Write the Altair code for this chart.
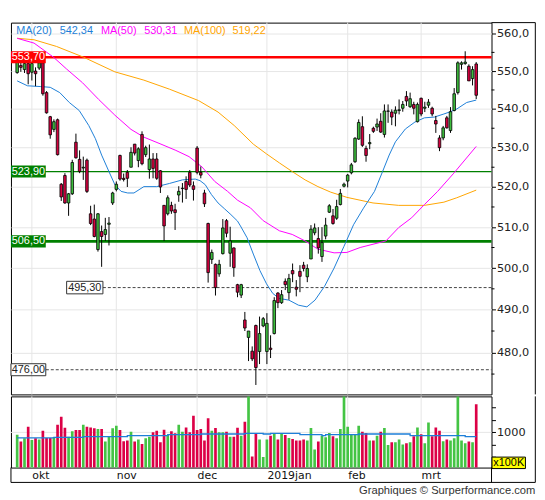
import altair as alt
import pandas as pd

# ---------------- data ----------------
OPEN = [549.6, 551.5, 550.4, 552.0, 549.7, 550.0, 550.8, 552.2, 544.3, 538.0,
        534.7, 537.2, 520.7, 522.9, 516.0, 518.3, 531.4, 527.0, 524.8, 526.8,
        513.3, 512.0, 504.5, 508.9, 508.2, 510.7, 516.0, 519.4, 528.0, 522.2,
        523.7, 525.0, 530.9, 526.7, 533.4, 528.2, 524.4, 527.1, 527.1, 524.1,
        515.4, 513.3, 515.4, 514.3, 518.0, 519.6, 521.4, 523.7, 520.3, 529.9,
        523.7, 518.5, 510.9, 502.1, 500.9, 498.6, 503.5, 511.6, 503.6, 504.9,
        496.0, 493.5, 487.6, 483.5, 480.3, 486.3, 480.2, 486.2, 480.2, 481.0,
        484.4, 494.0, 491.7, 496.8, 494.1, 499.4, 495.4, 499.2, 500.7, 497.9,
        502.2, 508.6, 507.2, 502.8, 507.8, 513.7, 512.8, 512.2, 515.6, 520.2,
        521.5, 523.6, 526.4, 532.2, 535.4, 529.8, 531.0, 535.0, 535.3, 536.8,
        533.4, 539.4, 539.2, 538.9, 539.6, 540.2, 543.3, 540.6, 541.2, 536.7,
        542.8, 540.2, 541.0, 540.2, 537.0, 532.5, 532.5, 537.7, 534.4, 539.6,
        544.3, 551.8, 552.0, 551.3, 548.0, 551.9]
HIGH = [553.2, 552.5, 552.6, 552.5, 552.6, 551.0, 553.0, 553.5, 544.7, 538.2,
        537.3, 537.5, 521.0, 523.5, 518.5, 526.9, 533.6, 529.3, 527.7, 527.2,
        515.3, 515.6, 513.5, 510.4, 512.3, 512.5, 518.8, 521.4, 528.2, 523.4,
        524.3, 530.1, 530.9, 530.1, 534.2, 530.5, 530.8, 528.6, 528.6, 524.3,
        515.5, 517.9, 516.3, 515.8, 520.2, 521.0, 522.7, 524.3, 521.4, 530.4,
        525.2, 519.3, 511.1, 504.5, 501.1, 502.0, 512.0, 512.0, 510.1, 505.0,
        496.2, 496.2, 489.5, 485.0, 481.4, 486.5, 488.4, 488.3, 489.2, 484.0,
        493.0, 494.2, 494.7, 497.5, 498.6, 501.1, 497.1, 500.7, 501.5, 500.9,
        510.5, 510.9, 510.0, 510.0, 512.3, 515.7, 514.5, 516.8, 519.5, 521.1,
        523.3, 526.1, 532.7, 537.3, 538.1, 530.5, 533.5, 535.4, 537.5, 538.9,
        541.2, 541.2, 539.9, 540.7, 542.5, 542.1, 544.7, 544.3, 541.9, 541.7,
        543.0, 541.9, 542.6, 540.6, 538.2, 533.2, 535.6, 538.2, 540.5, 545.5,
        552.6, 552.6, 555.3, 551.8, 551.3, 552.4]
LOW = [549.3, 549.8, 549.5, 546.5, 547.5, 546.0, 550.3, 543.5, 538.8, 532.3,
       534.0, 528.0, 516.5, 515.8, 512.8, 518.0, 527.2, 523.5, 521.8, 518.5,
       510.5, 507.5, 504.0, 500.3, 506.6, 505.5, 515.5, 518.9, 521.6, 521.4,
       520.0, 525.0, 528.0, 525.0, 525.5, 527.6, 522.1, 522.2, 521.8, 518.5,
       506.6, 512.9, 513.3, 509.3, 516.3, 516.1, 517.0, 520.0, 516.6, 523.2,
       522.2, 515.0, 496.5, 501.0, 493.4, 497.9, 503.3, 507.5, 500.3, 497.9,
       493.0, 492.8, 485.0, 478.0, 478.0, 472.5, 477.3, 485.9, 477.3, 478.7,
       484.2, 490.4, 491.4, 494.7, 492.4, 496.6, 493.2, 494.2, 499.2, 496.6,
       502.2, 508.0, 503.5, 501.5, 507.0, 513.5, 510.6, 511.8, 515.4, 519.9,
       519.9, 523.2, 526.1, 532.0, 530.2, 526.4, 529.6, 533.8, 534.3, 533.8,
       532.6, 536.4, 535.8, 535.5, 538.6, 539.3, 540.8, 540.3, 538.6, 536.5,
       538.1, 539.2, 540.3, 538.1, 533.8, 529.1, 531.9, 534.9, 533.8, 539.4,
       543.8, 550.4, 551.7, 547.4, 546.2, 542.6]
CLOSE = [552.5, 551.0, 552.0, 549.3, 552.0, 549.3, 552.2, 544.0, 539.0, 533.3,
         536.7, 528.2, 517.5, 516.0, 518.3, 526.2, 527.4, 523.9, 525.0, 518.9,
         510.9, 507.7, 513.3, 507.7, 509.4, 511.0, 518.5, 520.7, 522.0, 521.9,
         522.2, 528.8, 528.6, 529.7, 525.9, 530.0, 527.1, 524.7, 522.2, 520.0,
         510.3, 517.3, 514.0, 513.6, 518.9, 519.7, 519.4, 520.5, 519.4, 523.7,
         523.0, 515.8, 498.9, 503.8, 495.3, 500.9, 509.8, 508.5, 506.6, 500.1,
         494.2, 496.0, 485.7, 485.0, 478.5, 476.5, 484.4, 487.9, 486.8, 480.7,
         492.2, 491.7, 493.6, 496.0, 497.5, 498.6, 494.9, 498.0, 499.9, 499.9,
         509.5, 509.8, 504.9, 506.2, 510.5, 515.3, 510.9, 515.1, 518.4, 520.7,
         523.0, 525.6, 532.4, 536.5, 530.6, 528.0, 531.3, 534.2, 536.1, 534.0,
         539.5, 539.5, 537.9, 539.7, 539.8, 541.2, 542.1, 542.7, 540.2, 541.2,
         538.7, 540.5, 541.8, 538.7, 536.1, 530.0, 535.1, 535.1, 539.3, 544.0,
         552.2, 552.2, 552.4, 547.4, 550.4, 543.6]
VOLUME = [954, 814, 881, 1114, 847, 881, 854, 1034, 887, 887,
          901, 1154, 1314, 1094, 914, 1021, 1047, 1047, 1154, 1114,
          1101, 1081, 1067, 1067, 814, 921, 1081, 1134, 1047, 821,
          834, 1014, 814, 854, 767, 881, 914, 1001, 1034, 801,
          1054, 947, 1021, 981, 1154, 1014, 1101, 1001, 1334, 1047,
          1067, 834, 1287, 1034, 1087, 1001, 1001, 1014, 914, 914,
          1094, 934, 1214, 1740, 514, 981, 854, 501, 854, 934,
          981, 854, 967, 947, 887, 867, 834, 834, 854, 834,
          1087, 654, 814, 934, 901, 987, 921, 881, 1067, 1740,
          1114, 967, 967, 1134, 1014, 987, 834, 834, 934, 1014,
          1087, 747, 801, 801, 854, 754, 781, 801, 921, 1101,
          961, 781, 1201, 921, 1101, 1034, 821, 854, 834, 881,
          1740, 834, 781, 814, 801, 1567]

MONTH_IDX = [4, 27, 49, 68, 90, 110]
MONTH_LABELS = ["okt", "nov", "dec", "2019jan", "feb", "mrt"]

MA20_I = [0, 2.8, 6.3, 9.0, 11.6, 14.2, 16.9, 19.5, 21.3, 23.0, 24.8, 26.6, 28.3, 30.1,
          31.8, 34.5, 38.0, 41.5, 45.0, 48.5, 49.8, 51.2, 52.9, 54.7, 56.4, 58.2, 60.0,
          60.8, 62.6, 64.3, 66.1, 67.9, 69.6, 71.4, 74.0, 76.6, 78.9, 81.1, 83.7, 86.3,
          89.0, 91.6, 94.3, 97.3, 99.5, 101.3, 103.0, 105.7, 108.3, 110.9, 113.6, 116.2,
          118.0, 119.7, 122.4, 125.0]
MA20_V = [547.4, 546.1, 545.9, 545.7, 544.3, 541.7, 539.6, 535.7, 532.3, 528.1, 524.3,
          520.6, 518.9, 518.5, 518.5, 520.1, 520.1, 520.9, 521.8, 522.0, 521.6, 520.6,
          518.1, 516.0, 514.6, 513.1, 511.5, 510.3, 507.4, 503.4, 499.4, 496.2, 493.9,
          492.7, 492.3, 491.1, 490.7, 492.3, 495.6, 500.0, 505.3, 510.6, 514.7, 518.9,
          523.9, 528.1, 531.5, 534.8, 536.6, 537.7, 537.9, 538.7, 539.3, 540.0, 541.7,
          542.34]
MA50_I = [0, 4.6, 9.9, 13.4, 17.8, 22.2, 26.6, 31.0, 34.5, 38.9, 43.2, 46.8, 50.3, 53.8,
          57.3, 60.0, 63.5, 67.0, 71.4, 74.9, 78.4, 81.9, 86.3, 89.8, 93.4, 96.9, 100.4,
          103.9, 107.4, 110.9, 114.5, 118.9, 125.0]
MA50_V = [558.8, 557.5, 553.7, 550.6, 546.9, 542.5, 538.4, 534.7, 532.7, 531.0, 529.3,
          527.7, 525.1, 521.4, 518.9, 516.7, 514.8, 511.6, 509.1, 508.2, 506.6, 504.6,
          503.7, 503.8, 505.0, 505.8, 506.6, 509.9, 512.3, 515.6, 518.9, 523.5, 530.31]
MA100_I = [0, 4.6, 10.7, 18.1, 26.6, 34.5, 41.5, 49.4, 54.7, 59.1, 64.3, 67.9, 71.4, 74.9,
           78.4, 81.9, 85.4, 89.8, 96.9, 103.9, 110.9, 116.2, 119.7, 125.0]
MA100_V = [558.8, 558.4, 556.6, 553.7, 549.8, 547.6, 545.2, 542.2, 539.2, 535.7, 530.9,
           528.4, 526.1, 523.9, 521.8, 520.1, 518.7, 517.4, 516.0, 515.4, 515.4, 516.2,
           517.3, 519.22]
VOLMA_I = [0, 10, 18, 30, 41, 50, 62, 67, 69, 77, 83, 84, 93, 102, 107, 121, 122, 125]
VOLMA_V = [887, 901, 914, 934, 954, 967, 981, 967, 981, 954, 934, 954, 967, 967, 934,
           934, 914, 914]

LEVELS = [553.7, 523.9, 506.5, 495.3, 476.0]
LEVEL_LABELS = ["553,70", "523,90", "506,50", "495,30", "476,00"]
PRICE_TICKS = [480, 490, 500, 510, 520, 530, 540, 550, 560]
MINOR_TICKS = [475, 485, 495, 505, 515, 525, 535, 545, 555]
VOL_TICKS = [500, 750, 1000, 1250, 1500]
LEGEND = [("MA(20)", "542,34"), ("MA(50)", "530,31"), ("MA(100)", "519,22")]

# ---------------- styling / layout constants ----------------
W, H1, H2 = 486, 376, 72
LAB_H = 15
FRAME_R = 44.3
XDOM = [-0.343, 127.82]
YDOM = [470.35, 563.05]
VDOM = [288, 1728]
GREEN, RED = "#3cbc3c", "#d6003f"
VGREEN, VRED = "#44c444", "#dc0046"
GRID = "#e6e6e6"
BLUE, MAGENTA, ORANGE = "#1e7fd8", "#ff00ff", "#ffa500"
LEG_COLORS = [BLUE, MAGENTA, ORANGE]
LEG_X = [(5.3, 49.3), (91, 134.7), (175, 224)]
AX_FONT = "DejaVu Sans"
TXT_FONT = "Liberation Sans"
BOX_PATH = "M-1,-0.345L1,-0.345L1,0.345L-1,0.345Z"

n = len(OPEN)
df = pd.DataFrame({"i": list(range(n)), "open": OPEN, "high": HIGH, "low": LOW,
                   "close": CLOSE, "vol": VOLUME})
df["dir"] = ["up" if c >= o else "down" for o, c in zip(OPEN, CLOSE)]

xs = alt.Scale(domain=XDOM, nice=False, zero=False)
ys = alt.Scale(type="log", domain=YDOM, nice=False)
vs = alt.Scale(domain=VDOM, nice=False, zero=False)

months = pd.DataFrame({"i": MONTH_IDX, "label": MONTH_LABELS})
lev = pd.DataFrame({"v": LEVELS, "t": LEVEL_LABELS})
one = pd.DataFrame({"k": [0]})

price_axis = alt.Axis(orient="right", values=PRICE_TICKS,
                      labelExpr="replace(format(datum.value, '.1f'), '.', ',')",
                      grid=True, gridColor=GRID, tickSize=4, tickColor="black",
                      domain=False, title=None, labelFont=AX_FONT, labelFontSize=11.4,
                      labelColor="#222", labelPadding=1, labelOverlap=False)
month_expr = " : ".join(f"datum.value == {i} ? '{l}'" for i, l in zip(MONTH_IDX, MONTH_LABELS)) + " : ''"
x_axis = alt.Axis(values=MONTH_IDX, labelExpr=month_expr, labelAlign="left", labelBaseline="top",
                  labelPadding=2, ticks=False, tickSize=0, domain=False, grid=False, title=None,
                  labelFont=AX_FONT, labelFontSize=11, labelColor="#111", labelFlush=False,
                  labelOverlap=False)
v_axis = alt.Axis(orient="right", values=VOL_TICKS,
                  labelExpr="datum.value == 1000 ? '1000' : ''", grid=False, tickSize=4,
                  tickColor="black", domain=False, title=None, labelFont=AX_FONT,
                  labelFontSize=11.4, labelColor="#222", labelPadding=1, labelOverlap=False)


def X():
    return alt.X("i:Q", scale=xs, axis=None)


def XV():
    return alt.X("i:Q", scale=xs, axis=x_axis)


def Y(field):
    return alt.Y(f"{field}:Q", scale=ys, axis=price_axis)


def YV(field):
    return alt.Y(f"{field}:Q", scale=vs, axis=v_axis)


layers = []
layers.append(alt.Chart(months).mark_rule(color=GRID, strokeWidth=1).encode(
    x=X(), y=alt.value(0), y2=alt.value(H1)))

# level lines
layers.append(alt.Chart(lev.iloc[[0]]).mark_rule(color="#ff0000", strokeWidth=2.6).encode(
    y=Y("v"), x=alt.value(0), x2=alt.value(W)))
layers.append(alt.Chart(lev.iloc[[1]]).mark_rule(color="#008000", strokeWidth=1.3).encode(
    y=Y("v"), x=alt.value(0), x2=alt.value(W)))
layers.append(alt.Chart(lev.iloc[[2]]).mark_rule(color="#008000", strokeWidth=2.8).encode(
    y=Y("v"), x=alt.value(0), x2=alt.value(W)))
layers.append(alt.Chart(lev.iloc[[3]]).mark_rule(color="#444", strokeWidth=1, strokeDash=[3, 2]).encode(
    y=Y("v"), x=alt.value(93), x2=alt.value(W)))
layers.append(alt.Chart(lev.iloc[[4]]).mark_rule(color="#444", strokeWidth=1, strokeDash=[3, 2]).encode(
    y=Y("v"), x=alt.value(35.3), x2=alt.value(W)))

# moving averages
for mi, mv, col in [(MA100_I, MA100_V, ORANGE), (MA50_I, MA50_V, MAGENTA), (MA20_I, MA20_V, BLUE)]:
    layers.append(alt.Chart(pd.DataFrame({"i": mi, "v": mv})).mark_line(
        color=col, strokeWidth=1, clip=True).encode(x=X(), y=Y("v")))

# candles
layers.append(alt.Chart(df).mark_rule(color="black", strokeWidth=1, clip=True).encode(
    x=X(), y=Y("low"), y2="high:Q"))
layers.append(alt.Chart(df).mark_bar(width=2.6, stroke="black", strokeWidth=0.8, clip=True).encode(
    x=X(),
    y=Y("open"),
    y2="close:Q",
    color=alt.Color("dir:N", scale=alt.Scale(domain=["up", "down"], range=[GREEN, RED]), legend=None)))

# level labels
box_specs = [(0, "#ff0000", None, 17.6, 1239, "white"),
             (1, "#008000", None, 17.6, 1239, "white"),
             (2, "#008000", None, 17.6, 1239, "white"),
             (3, "white", "#333", 74.65, 1347, "#222"),
             (4, "white", "#333", 17.6, 1239, "#222")]
for idx, fill, stroke, cx, size, tcol in box_specs:
    kw = dict(shape=BOX_PATH, size=size, filled=True, fill=fill, opacity=1)
    if stroke:
        kw.update(stroke=stroke, strokeWidth=1)
    else:
        kw.update(strokeWidth=0)
    layers.append(alt.Chart(lev.iloc[[idx]]).mark_point(**kw).encode(x=alt.value(cx), y=Y("v")))
    layers.append(alt.Chart(lev.iloc[[idx]]).mark_text(
        color=tcol, font=TXT_FONT, fontSize=11, align="center", baseline="middle").encode(
        x=alt.value(cx), y=Y("v"), text="t:N"))

# MA legend
for (name, val), col, (x1, x2) in zip(LEGEND, LEG_COLORS, LEG_X):
    leg = pd.DataFrame({"name": [name], "val": [val]})
    layers.append(alt.Chart(leg).mark_text(color=col, font=TXT_FONT, fontSize=11, align="left",
                                           baseline="middle").encode(
        x=alt.value(x1), y=alt.value(8), text="name:N"))
    layers.append(alt.Chart(leg).mark_text(color=col, font=TXT_FONT, fontSize=11, align="left",
                                           baseline="middle").encode(
        x=alt.value(x2), y=alt.value(8), text="val:N"))

# minor ticks on the price axis
layers.append(alt.Chart(pd.DataFrame({"v": MINOR_TICKS})).mark_rule(color="black", strokeWidth=1).encode(
    y=Y("v"), x=alt.value(W), x2=alt.value(W + 3)))

# outer frame parts
layers.append(alt.Chart(one).mark_rule(color="black", strokeWidth=1).encode(
    x=alt.value(W), x2=alt.value(W + FRAME_R), y=alt.value(0)))
layers.append(alt.Chart(one).mark_rule(color="black", strokeWidth=1).encode(
    x=alt.value(W + FRAME_R), y=alt.value(0), y2=alt.value(H1)))

price = alt.layer(*layers).properties(width=W, height=H1)

# ---------------- volume panel ----------------
vl = []
vl.append(alt.Chart(months).mark_rule(color=GRID, strokeWidth=1).encode(
    x=XV(), y=alt.value(0), y2=alt.value(H2)))
vl.append(alt.Chart(pd.DataFrame({"v": [1000]})).mark_rule(color=GRID, strokeWidth=1).encode(
    y=YV("v"), x=alt.value(0), x2=alt.value(W)))
vl.append(alt.Chart(df).mark_bar(width=2.7, clip=True).encode(
    x=XV(),
    y=YV("vol"),
    y2=alt.value(H2),
    color=alt.Color("dir:N", scale=alt.Scale(domain=["up", "down"], range=[VGREEN, VRED]), legend=None)))
vl.append(alt.Chart(pd.DataFrame({"i": VOLMA_I, "v": VOLMA_V})).mark_line(
    color=BLUE, strokeWidth=1.3, interpolate="step-after", clip=True).encode(
    x=XV(), y=YV("v")))
# frame pieces
vl.append(alt.Chart(one).mark_rule(color="black", strokeWidth=1).encode(
    x=alt.value(W + FRAME_R), y=alt.value(0), y2=alt.value(H2 + LAB_H)))
vl.append(alt.Chart(one).mark_rule(color="black", strokeWidth=1).encode(
    x=alt.value(0), x2=alt.value(W + FRAME_R), y=alt.value(H2 + LAB_H)))
vl.append(alt.Chart(one).mark_rule(color="black", strokeWidth=1).encode(
    x=alt.value(0), y=alt.value(H2), y2=alt.value(H2 + LAB_H)))
vl.append(alt.Chart(one).mark_rule(color="black", strokeWidth=1).encode(
    x=alt.value(W), y=alt.value(H2), y2=alt.value(H2 + LAB_H)))
# x100K badge
vl.append(alt.Chart(one).mark_rect(fill="#ffff00", stroke="black", strokeWidth=1).encode(
    x=alt.value(W + 0.5), x2=alt.value(W + 34.3), y=alt.value(61.4), y2=alt.value(73.0)))
vl.append(alt.Chart(pd.DataFrame({"t": ["x100K"]})).mark_text(
    font=TXT_FONT, fontSize=11, color="black", align="center", baseline="middle").encode(
    x=alt.value(W + 17.4), y=alt.value(67.4), text="t:N"))
# credit
vl.append(alt.Chart(pd.DataFrame({"t": ["Graphiques \u00a9 Surperformance.com"]})).mark_text(
    font=TXT_FONT, fontSize=11.3, color="#333", align="right", baseline="middle").encode(
    x=alt.value(W + FRAME_R), y=alt.value(H2 + LAB_H + 9), text="t:N"))

volume = alt.layer(*vl).properties(width=W, height=H2)

chart = alt.vconcat(price, volume, spacing=0).resolve_scale(color="independent").properties(
    padding={"left": 0, "top": 11, "right": 0, "bottom": 0}
).configure_view(stroke="black", strokeWidth=1)

chart.save("out.html", embed_options={"renderer": "svg", "actions": False})
